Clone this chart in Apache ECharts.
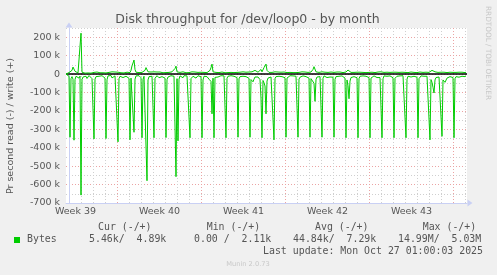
<!DOCTYPE html>
<html>
<head>
<meta charset="utf-8">
<script src="https://cdn.jsdelivr.net/npm/echarts@6/dist/echarts.min.js"></script>
<style>html,body{margin:0;padding:0;background:#f0f0f0;}#c{width:497px;height:275px;}</style>
</head>
<body>
<div id="c"></div>
<script>
// Time axis: days, 2-hour samples (12 per day), first sample at day -0.25
const T0 = -0.25;
const STEP = 1 / 12;
const weekLabels = ['39', '40', '41', '42', '43'];
const yTicksK = [-700, -600, -500, -400, -300, -200, -100, 0, 100, 200];

// read throughput (k bytes/s), plotted negative
const readRows = [
  [0,0,2,12,343,25,14,28,359,30,12,9],
  [14,22,11,657,30,16,9,20,12,24,14,8],
  [11,18,25,15,352,28,14,9,19,12,16,10],
  [9,16,12,22,350,31,10,18,14,8,21,12],
  [14,10,19,15,368,25,12,16,9,19,14,17],
  [12,19,9,23,357,22,16,14,316,28,10,15],
  [16,9,14,20,346,29,12,17,11,579,32,14],
  [10,17,12,19,346,23,14,9,16,20,12,10],
  [14,9,17,22,345,30,16,12,19,9,14,17],
  [12,19,557,25,363,28,10,16,14,20,9,12],
  [16,10,14,19,346,25,17,12,9,16,22,14],
  [9,14,19,15,346,32,12,17,10,14,19,28],
  [35,40,216,22,346,18,14,10,16,12,17,9],
  [14,17,10,20,346,23,12,16,19,9,14,16],
  [12,9,16,19,343,26,14,17,10,12,16,19],
  [14,10,17,23,343,30,38,42,28,16,12,19],
  [16,22,30,130,346,35,48,65,216,38,22,14],
  [12,16,19,22,357,25,14,10,17,12,16,9],
  [14,17,10,20,343,22,12,16,9,19,14,10],
  [10,16,12,19,343,28,17,14,16,10,12,19],
  [14,9,17,22,343,25,16,28,50,148,30,16],
  [12,17,14,19,343,23,10,16,12,19,14,9],
  [16,12,19,17,343,29,14,10,17,12,16,14],
  [10,19,14,22,346,32,62,134,38,19,12,16],
  [14,10,17,20,346,25,12,16,19,10,14,17],
  [12,16,9,19,346,22,14,17,10,16,12,19],
  [16,12,19,14,346,26,10,14,17,12,16,9],
  [10,17,14,20,346,23,16,12,19,14,10,16],
  [14,9,16,19,346,28,12,17,10,16,14,12],
  [12,19,14,17,346,25,16,10,14,19,12,16],
  [16,12,17,22,357,30,45,72,103,32,19,14],
  [10,16,14,20,338,32,38,45,35,22,16,12],
  [14,17,12,19,346,25,14,16,10,17,12,16],
  [12,16,10,14,9]
];

// write throughput (k bytes/s), plotted positive
const writeRows = [
  [0,2,5,8,10,12,20,38,43,15,8,10],
  [6,9,12,222,10,7,9,5,11,8,6,10],
  [8,5,10,7,9,12,6,11,8,10,7,9],
  [10,7,9,12,6,8,11,9,7,10,12,8],
  [9,11,8,6,10,12,9,7,10,8,6,11],
  [7,10,12,9,8,20,45,60,76,25,10,8],
  [10,8,6,11,9,12,9,20,35,43,12,9],
  [8,11,9,10,12,10,10,11,10,10,11,10],
  [9,7,10,12,8,6,11,9,10,8,12,7],
  [10,30,43,12,8,11,9,7,10,12,8,9],
  [7,9,11,8,10,6,12,9,8,11,7,10],
  [9,12,8,10,7,11,9,12,10,8,10,12],
  [20,35,54,12,8,12,9,7,11,8,10,9],
  [11,8,10,7,9,12,8,10,11,9,7,10],
  [8,10,12,9,11,7,10,8,9,12,10,8],
  [10,7,9,11,8,10,12,9,15,20,12,18],
  [10,12,15,25,12,20,35,45,54,20,12,9],
  [8,11,9,10,7,12,8,10,11,9,8,10],
  [10,8,11,9,12,8,10,7,9,11,10,8],
  [9,12,8,10,11,9,7,10,12,8,9,11],
  [8,10,9,12,8,11,15,25,40,50,12,9],
  [11,9,10,8,12,9,11,10,8,10,9,12],
  [9,11,8,10,9,12,8,11,10,9,11,8],
  [10,8,12,9,11,15,22,29,12,9,10,8],
  [9,11,8,10,12,9,10,8,11,9,10,12],
  [8,10,11,9,8,12,10,9,11,8,10,9],
  [11,9,10,12,8,10,9,11,8,10,12,9],
  [9,12,8,10,11,9,10,8,12,9,11,10],
  [10,8,11,9,10,12,8,10,9,11,8,10],
  [9,11,10,8,12,9,11,10,8,9,10,11],
  [10,9,12,9,10,15,20,25,29,12,10,8],
  [9,11,8,10,12,9,10,11,9,8,10,12],
  [10,8,11,9,10,12,9,8,11,10,9,8],
  [10,9,11,8,10]
];

const legendHeaders = ['Cur (-/+)', 'Min (-/+)', 'Avg (-/+)', 'Max (-/+)'];
const legendValues = ['5.46k/  4.89k', '0.00 /  2.11k', '44.84k/  7.29k', '14.99M/  5.03M'];
const seriesName = 'Bytes';
const lastUpdate = 'Last update: Mon Oct 27 01:00:03 2025';

const read = readRows.flat();
const write = writeRows.flat();
const readData = read.map((v, i) => [T0 + i * STEP, -v]);
const writeData = write.map((v, i) => [T0 + i * STEP, v]);

const GREEN = '#00cc00';
const AXIS = '#c9d0f4';
const GRIDC = '#cfcfcf';
const MGRIDC = '#eba3a3';
const TXT = '#555';
const SANS = 'DejaVu Sans';
const MONO = 'DejaVu Sans Mono';

const chart = echarts.init(document.getElementById('c'), null, {renderer: 'canvas'});

const gTop = 28, gBottom = 72;
const headerX = [98, 206.7, 315, 422.7];
const valueX = [89, 194, 293, 398];

function txt(x, y, text, size, family, fill, align, rot) {
  const o = {type: 'text', x: x, y: y, z: 10, style: {text: text, fontSize: size, fontFamily: family, fill: fill,
    align: align, verticalAlign: 'middle', textAlign: align, textVerticalAlign: 'middle'}};
  if (rot) o.rotation = rot;
  return o;
}

const graphics = [
  txt(247.5, 19.5, 'Disk throughput for /dev/loop0 - by month', 12.5, SANS, TXT, 'center'),
  txt(10.5, 126, 'Pr second read (-) / write (+)', 9.5, SANS, TXT, 'center', Math.PI / 2),
  txt(488, 53, 'RRDTOOL / TOBI OETIKER', 7.3, SANS, '#c8c8c8', 'center', -Math.PI / 2),
  {type: 'rect', z: 10, shape: {x: 14, y: 237, width: 6, height: 6}, style: {fill: GREEN}},
  txt(27, 239.7, seriesName, 9.9, MONO, TXT, 'left'),
  txt(483, 251.7, lastUpdate, 9.9, MONO, TXT, 'right'),
  txt(248, 264, 'Munin 2.0.73', 6.7, SANS, '#c8c8c8', 'center')
];
legendHeaders.forEach((h, k) => graphics.push(txt(headerX[k], 227.3, h, 9.9, MONO, TXT, 'left')));
legendValues.forEach((h, k) => graphics.push(txt(valueX[k], 239.7, h, 9.9, MONO, TXT, 'left')));

const vColors = [GRIDC, GRIDC, GRIDC, GRIDC, MGRIDC, GRIDC, GRIDC];

chart.setOption({
  animation: false,
  backgroundColor: '#f0f0f0',
  grid: [
    {left: 66, right: 30, top: gTop, bottom: gBottom, show: true, backgroundColor: '#ffffff', borderWidth: 0, z: 0},
    {left: 69, width: 396, top: gTop, bottom: gBottom, show: false},
    {left: 75.5, width: 336, top: gTop, bottom: gBottom, show: false}
  ],
  xAxis: [
    {gridIndex: 0, type: 'value', min: T0, max: T0 + 401 * STEP, z: 3,
      axisLine: {show: true, onZero: false, symbol: ['none', 'triangle'], symbolSize: [7, 5], symbolOffset: [0, 3], lineStyle: {color: AXIS, width: 1}},
      axisTick: {show: false}, axisLabel: {show: false}, splitLine: {show: false}},
    {gridIndex: 1, type: 'value', min: 0, max: 33, interval: 1, z: 1,
      axisLine: {show: false}, axisTick: {show: false}, axisLabel: {show: false},
      splitLine: {show: true, lineStyle: {color: vColors, width: 1, type: [1, 2]}}},
    {gridIndex: 2, type: 'value', min: 0, max: 28, interval: 7, z: 3,
      axisLine: {show: false}, axisTick: {show: false}, splitLine: {show: false},
      axisLabel: {show: true, margin: 4, fontSize: 9.5, fontFamily: SANS, color: TXT,
        formatter: v => 'Week ' + weekLabels[Math.round(v / 7)]}}
  ],
  yAxis: [
    {gridIndex: 0, type: 'value', min: -700, max: 250, interval: 50, z: 1,
      axisLine: {show: true, symbol: ['none', 'triangle'], symbolSize: [7, 5], symbolOffset: [0, 3], lineStyle: {color: AXIS, width: 1}},
      axisTick: {show: false},
      axisLabel: {show: true, margin: 6, fontSize: 9.5, fontFamily: SANS, color: TXT,
        formatter: v => (yTicksK.indexOf(v) < 0 ? '' : (v === 0 ? '0' : v + ' k'))},
      splitLine: {show: true, lineStyle: {color: [MGRIDC, GRIDC], width: 1, type: [1, 2]}}},
    {gridIndex: 1, type: 'value', min: 0, max: 1, show: false},
    {gridIndex: 2, type: 'value', min: 0, max: 1, show: false}
  ],
  graphic: graphics,
  series: [
    {type: 'line', name: 'read', xAxisIndex: 0, yAxisIndex: 0, data: readData, showSymbol: false, z: 5,
      lineStyle: {color: GREEN, width: 1}, itemStyle: {color: GREEN}},
    {type: 'line', name: 'write', xAxisIndex: 0, yAxisIndex: 0, data: writeData, showSymbol: false, z: 5,
      lineStyle: {color: GREEN, width: 1}, itemStyle: {color: GREEN},
      markLine: {silent: true, symbol: 'none', label: {show: false}, data: [{yAxis: 0}],
        lineStyle: {color: '#000', width: 1.5, type: 'solid'}}}
  ]
});
</script>
</body>
</html>
